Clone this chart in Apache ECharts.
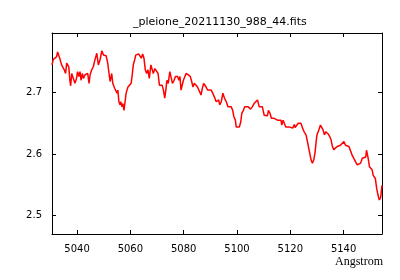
<!DOCTYPE html>
<html>
<head>
<meta charset="utf-8">
<script src="https://cdn.jsdelivr.net/npm/echarts@6/dist/echarts.min.js"></script>
<style>html,body{margin:0;padding:0;background:#fff}#c{width:400px;height:280px}</style>
</head>
<body>
<div id="c"></div>
<script>
const titleText = '_pleione_20211130_988_44.fits';
const xName = 'Angstrom';
const xTicks = [5040, 5060, 5080, 5100, 5120, 5140];
const yTicks = [2.5, 2.6, 2.7];
const xRange = [5030.6, 5154.4];
const yRange = [2.4695, 2.797];
const wavelength = [
5030.6,5031.1,5031.7,5032.3,5032.7,5033.2,5033.5,5034.2,5034.8,5035.2,
5035.7,5036.1,5036.4,5036.9,5037.3,5037.6,5038.0,5038.6,5039.2,5039.8,
5040.2,5040.7,5041.1,5041.5,5042.0,5042.4,5043.0,5043.6,5044.0,5044.5,
5044.9,5045.5,5046.1,5046.5,5047.0,5047.4,5048.0,5048.6,5049.3,5049.9,
5050.5,5050.9,5051.5,5052.0,5052.4,5053.0,5053.4,5054.1,5054.6,5055.0,
5055.3,5055.7,5056.1,5056.4,5056.8,5057.2,5057.6,5058.1,5058.4,5059.1,
5059.7,5060.3,5060.7,5061.1,5061.6,5062.0,5062.6,5063.1,5063.6,5064.1,
5064.6,5065.1,5065.6,5066.1,5066.6,5067.1,5067.7,5068.1,5068.6,5069.2,
5069.8,5070.4,5070.9,5071.4,5071.9,5072.4,5072.9,5073.3,5073.7,5074.2,
5074.8,5075.4,5075.8,5076.4,5076.9,5077.7,5078.2,5078.6,5079.0,5079.5,
5079.9,5080.2,5080.9,5081.2,5081.7,5082.5,5083.0,5083.5,5084.0,5084.6,
5085.2,5085.9,5086.5,5087.0,5087.5,5088.0,5088.4,5089.0,5089.7,5090.3,
5090.9,5091.5,5092.2,5092.6,5093.1,5093.5,5094.1,5094.7,5095.3,5096.0,
5096.6,5097.2,5097.8,5098.4,5098.8,5099.4,5099.7,5100.3,5100.9,5101.4,
5101.8,5102.4,5102.9,5103.5,5104.1,5104.6,5105.1,5105.8,5106.4,5107.0,
5107.7,5108.3,5108.9,5109.5,5110.2,5110.8,5111.4,5111.8,5112.4,5112.9,
5113.4,5113.9,5114.6,5115.2,5115.8,5116.5,5116.8,5117.3,5117.7,5118.3,
5119.0,5119.6,5120.2,5120.9,5121.5,5121.8,5122.5,5123.0,5123.5,5124.0,
5124.6,5125.2,5125.9,5126.3,5126.8,5127.3,5127.8,5128.3,5128.8,5129.3,
5129.7,5130.0,5130.7,5131.3,5131.8,5132.3,5132.8,5133.3,5133.8,5134.3,
5134.8,5135.3,5135.8,5136.3,5136.9,5137.6,5138.2,5138.8,5139.5,5140.1,
5140.7,5141.4,5142.0,5142.6,5143.2,5143.9,5144.5,5145.1,5145.8,5146.4,
5147.0,5147.7,5148.3,5148.6,5149.2,5149.7,5150.2,5150.7,5151.1,5151.4,
5151.9,5152.4,5152.9,5153.4,5153.9,5154.2,5154.4
];
const flux = [
2.745,2.754,2.753,2.758,2.766,2.764,2.756,2.745,2.742,2.737,
2.731,2.748,2.749,2.742,2.720,2.711,2.731,2.731,2.715,2.723,
2.734,2.726,2.734,2.720,2.731,2.723,2.729,2.726,2.731,2.715,
2.729,2.737,2.742,2.750,2.753,2.764,2.745,2.753,2.768,2.761,
2.764,2.760,2.748,2.731,2.718,2.731,2.715,2.707,2.704,2.699,
2.704,2.685,2.680,2.685,2.677,2.682,2.671,2.688,2.699,2.709,
2.712,2.715,2.729,2.745,2.753,2.761,2.758,2.763,2.764,2.756,
2.763,2.756,2.737,2.731,2.737,2.723,2.745,2.739,2.731,2.739,
2.737,2.731,2.712,2.709,2.712,2.704,2.691,2.704,2.720,2.715,
2.734,2.731,2.715,2.720,2.726,2.726,2.720,2.726,2.704,2.704,
2.720,2.723,2.731,2.732,2.729,2.726,2.718,2.709,2.715,2.712,
2.709,2.707,2.696,2.707,2.715,2.718,2.709,2.704,2.701,2.704,
2.699,2.693,2.685,2.682,2.688,2.680,2.685,2.699,2.691,2.685,
2.677,2.674,2.677,2.671,2.661,2.655,2.644,2.647,2.644,2.652,
2.666,2.671,2.677,2.674,2.677,2.680,2.673,2.677,2.682,2.680,
2.688,2.677,2.674,2.677,2.663,2.663,2.662,2.671,2.666,2.658,
2.661,2.658,2.661,2.655,2.652,2.655,2.647,2.655,2.652,2.644,
2.642,2.644,2.643,2.642,2.648,2.643,2.644,2.650,2.647,2.650,
2.642,2.636,2.631,2.623,2.612,2.601,2.590,2.585,2.590,2.603,
2.620,2.631,2.639,2.647,2.649,2.639,2.631,2.636,2.636,2.632,
2.628,2.623,2.612,2.607,2.609,2.612,2.609,2.614,2.612,2.620,
2.614,2.614,2.612,2.609,2.598,2.595,2.587,2.582,2.579,2.585,
2.593,2.590,2.595,2.606,2.593,2.579,2.576,2.574,2.565,2.563,
2.560,2.544,2.533,2.525,2.529,2.541,2.549
];

const chart = echarts.init(document.getElementById('c'), null, {renderer: 'canvas'});
const axisLine = {show: true, onZero: false, lineStyle: {color: '#000', width: 1}};
const tickStyle = {inside: true, length: 4, lineStyle: {color: '#000', width: 1}};
const labelFont = {color: '#000', fontFamily: 'DejaVu Sans', fontSize: 10};
chart.setOption({
  animation: false,
  backgroundColor: '#fff',
  title: {
    text: titleText, left: 128, top: 12,
    textStyle: {fontFamily: 'DejaVu Sans', fontSize: 11, fontWeight: 'normal', color: '#000'}
  },
  grid: {left: 52, right: 18, top: 33, bottom: 46, containLabel: false},
  xAxis: [
    {type: 'value', min: xRange[0], max: xRange[1], position: 'bottom',
     axisLine: axisLine, splitLine: {show: false},
     axisTick: Object.assign({customValues: xTicks}, tickStyle),
     axisLabel: Object.assign({customValues: xTicks, margin: 10, formatter: v => String(Math.round(v))}, labelFont)},
    {type: 'value', min: xRange[0], max: xRange[1], position: 'top',
     axisLine: axisLine, splitLine: {show: false},
     axisTick: Object.assign({customValues: xTicks}, tickStyle),
     axisLabel: {show: false}}
  ],
  yAxis: [
    {type: 'value', min: yRange[0], max: yRange[1], position: 'left',
     axisLine: axisLine, splitLine: {show: false},
     axisTick: Object.assign({customValues: yTicks}, tickStyle),
     axisLabel: Object.assign({customValues: yTicks, margin: 10, formatter: v => v.toFixed(1)}, labelFont)},
    {type: 'value', min: yRange[0], max: yRange[1], position: 'right',
     axisLine: axisLine, splitLine: {show: false},
     axisTick: Object.assign({customValues: yTicks}, tickStyle),
     axisLabel: {show: false}}
  ],
  graphic: [{
    type: 'text', right: 17, top: 256,
    style: {text: xName, font: '12px "Liberation Serif"', fill: '#000'}
  }],
  series: [{
    type: 'line', xAxisIndex: 0, yAxisIndex: 0,
    data: wavelength.map((w, i) => [w, flux[i]]),
    showSymbol: false, symbol: 'none',
    lineStyle: {color: '#ff0000', width: 1.5},
    clip: true
  }]
});
</script>
</body>
</html>
